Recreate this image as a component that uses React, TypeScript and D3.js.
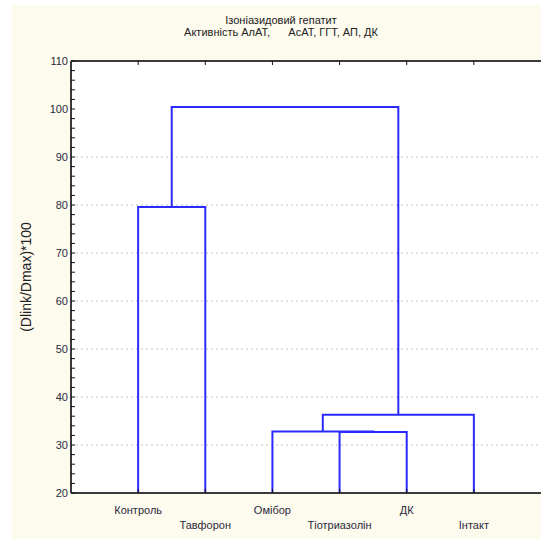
import * as d3 from "d3";

// leaves in drawing order (left to right)
const leaves = ["Контроль", "Тавфорон", "Омібор", "Тіотриазолін", "ДК", "Інтакт"];
// merges: [left, right, linkage distance]; numbers >= 100 refer to earlier merges (100 + index)
const merges: [string | number, string | number, number][] = [
  ["Тіотриазолін", "ДК", 32.7],
  ["Омібор", 100, 32.8],
  [101, "Інтакт", 36.3],
  ["Контроль", "Тавфорон", 79.6],
  [103, 102, 100.4],
];
const yTicks = [20, 30, 40, 50, 60, 70, 80, 90, 100, 110];
const gridTicks = [30, 40, 50, 60, 70, 80, 90];
const titleLines = ["Ізоніазидовий гепатит", "Активність АлАТ,      АсАТ, ГГТ, АП, ДК"];
const yLabel = "(Dlink/Dmax)*100";

const W = 541;
const H = 539;
const left = 71;
const top = 61;
const bottom = 493;
const font = "'Liberation Sans Narrow', 'Liberation Sans', Arial, sans-serif";

export default function App() {
  const x = d3.scaleLinear([0, leaves.length + 1], [left, W]);
  const y = d3.scaleLinear([20, 110], [bottom, top]);
  const minorTicks = d3.range(20, 111, 2);

  // work out each node's x position and height, then the bracket paths
  const pos: { x: number; h: number }[] = [];
  const node = (k: string | number) =>
    typeof k === "number" ? pos[k - 100] : { x: x(leaves.indexOf(k) + 1), h: 20 };
  const paths: string[] = [];
  merges.forEach(([a, b, h]) => {
    const na = node(a);
    const nb = node(b);
    const p = d3.path();
    p.moveTo(na.x, y(na.h));
    p.lineTo(na.x, y(h));
    p.lineTo(nb.x, y(h));
    p.lineTo(nb.x, y(nb.h));
    paths.push(p.toString());
    pos.push({ x: (na.x + nb.x) / 2, h });
  });

  return (
    <svg width={W} height={H} style={{ position: "absolute", left: 0, top: 0, display: "block" }}>
      <rect x={12} y={5} width={W - 12} height={H - 5} fill="#fdfaee" />
      <rect x={left} y={top} width={W - left} height={bottom - top} fill="#ffffff" />

      {gridTicks.map((t) => (
        <line key={t} x1={left} x2={W} y1={y(t)} y2={y(t)} stroke="#c4c4c4" strokeDasharray="2,3" />
      ))}

      <g fill="none" stroke="#2a2aff" strokeWidth={2}>
        {paths.map((d, i) => (
          <path key={i} d={d} />
        ))}
      </g>

      {/* frame */}
      <g stroke="#3a3a3a" strokeWidth={2} fill="none">
        <line x1={left} x2={W} y1={top} y2={top} />
        <line x1={left} x2={W} y1={bottom} y2={bottom} />
        <line x1={left} x2={left} y1={top} y2={bottom} />
      </g>
      <g stroke="#111" strokeWidth={1}>
        {minorTicks.map((t) => (
          <line key={t} x1={left} x2={left + 4} y1={y(t)} y2={y(t)} />
        ))}
        {leaves.map((l, i) => (
          <g key={l}>
            <line x1={x(i + 1)} x2={x(i + 1)} y1={bottom} y2={bottom - 4} />
            <line x1={x(i + 1)} x2={x(i + 1)} y1={top} y2={top + 4} />
          </g>
        ))}
      </g>

      <g fontFamily={font} fontSize={11} fill="#2b2b3a" textAnchor="end">
        {yTicks.map((t) => (
          <text key={t} x={left - 3} y={y(t)} dy="0.35em">
            {t}
          </text>
        ))}
      </g>

      <g fontFamily={font} fontSize={11} fill="#2b2b3a" textAnchor="middle">
        {leaves.map((l, i) => (
          <text key={l} x={x(i + 1)} y={i % 2 === 0 ? 514 : 529}>
            {l}
          </text>
        ))}
      </g>

      <g fontFamily={font} fontSize={11} fill="#222" textAnchor="middle">
        {titleLines.map((s, i) => (
          <text key={i} x={281} y={24 + i * 12} xmlSpace="preserve" style={{ whiteSpace: "pre" }}>
            {s}
          </text>
        ))}
      </g>

      <text
        transform={`translate(31,${(top + bottom) / 2}) rotate(-90)`}
        textAnchor="middle"
        fontFamily={font}
        fontSize={14}
        fill="#222"
      >
        {yLabel}
      </text>
    </svg>
  );
}
